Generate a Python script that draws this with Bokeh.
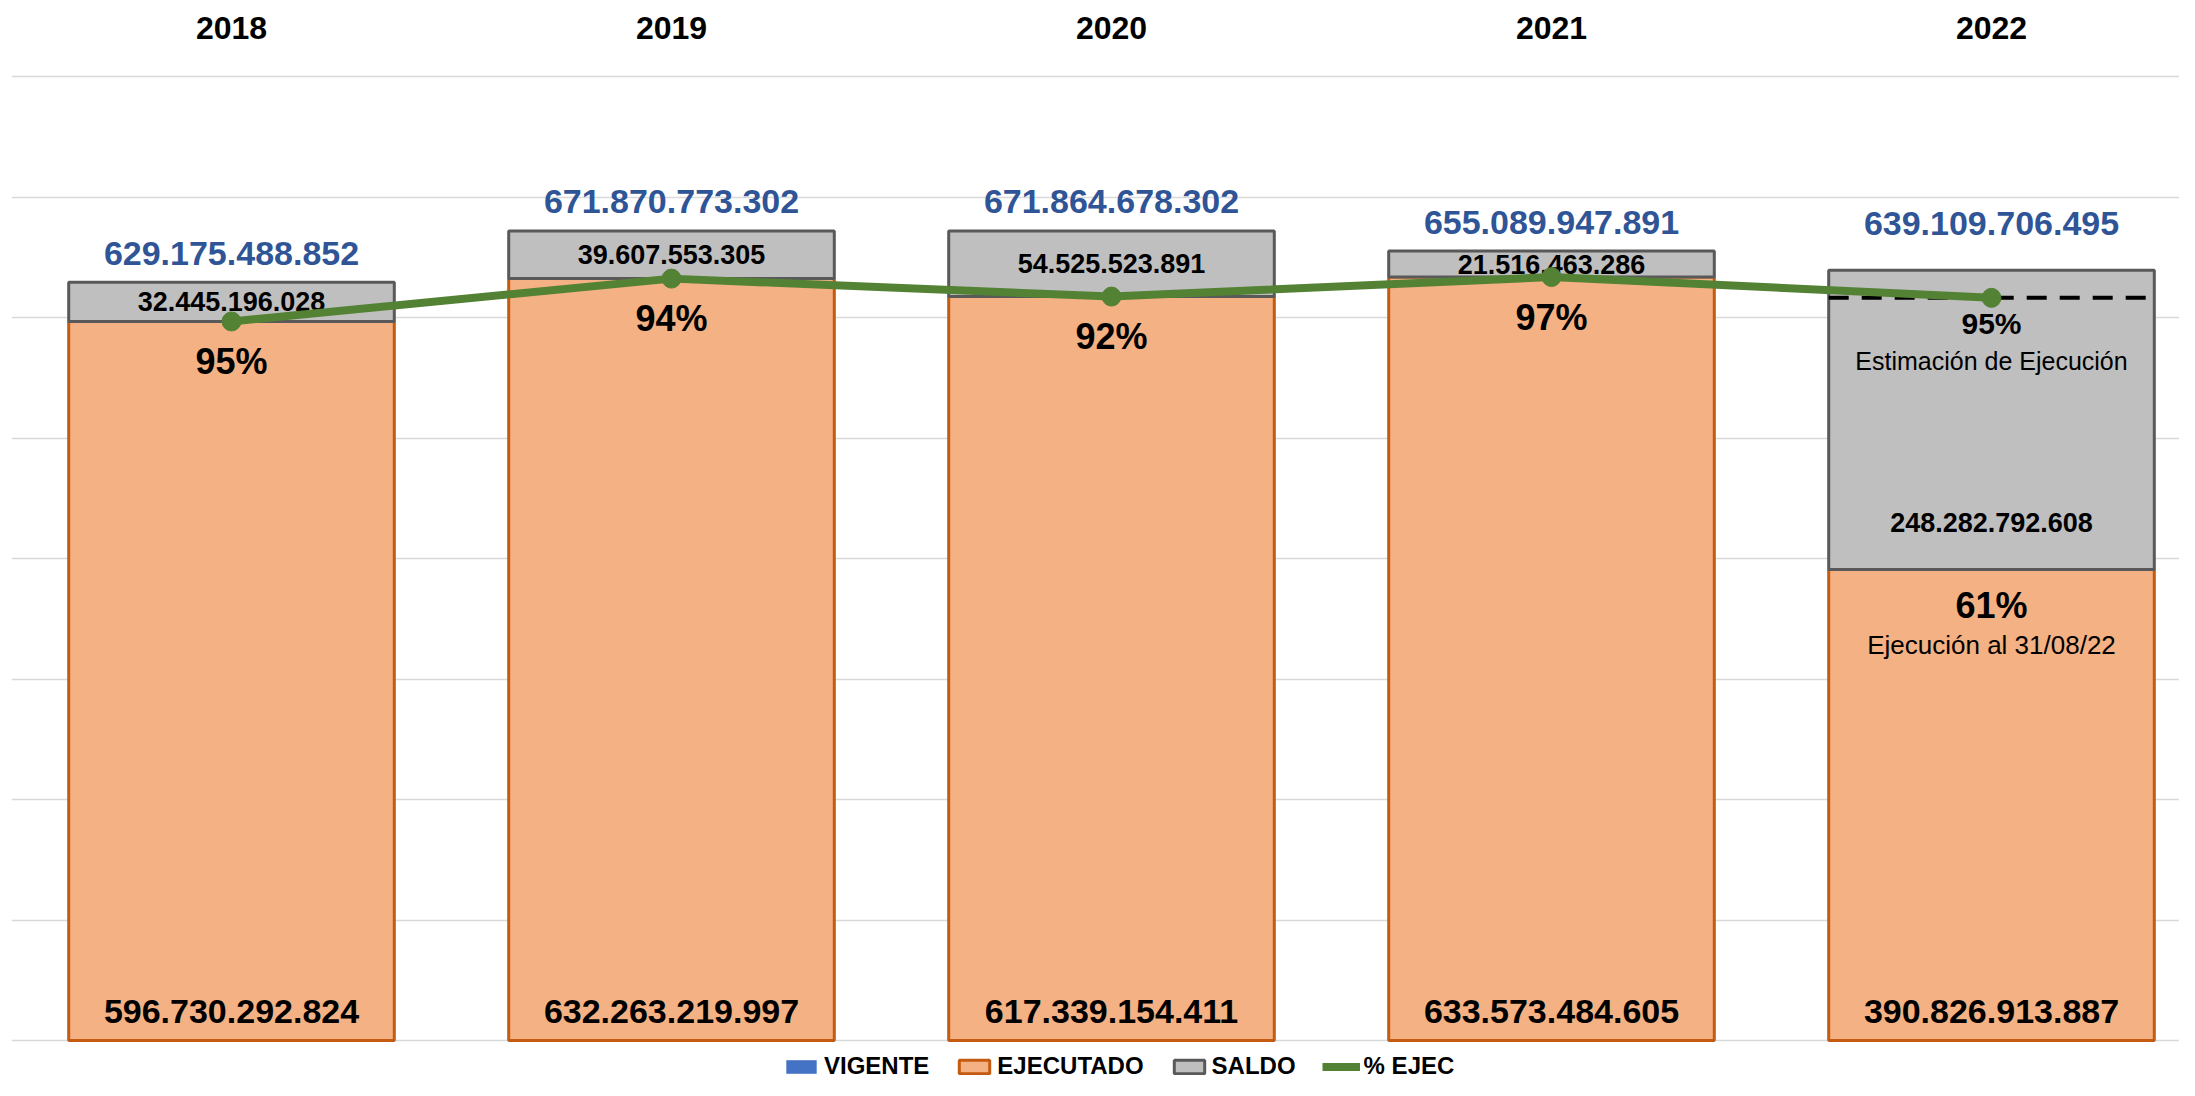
from bokeh.plotting import figure
from bokeh.models import Range1d, FixedTicker, Legend, LegendItem, ColumnDataSource
from bokeh.core.properties import value
from bokeh.embed import file_html
from bokeh.resources import INLINE

# ---------------- data ----------------
years = ["2018", "2019", "2020", "2021", "2022"]
vigente = [629175488852, 671870773302, 671864678302, 655089947891, 639109706495]
ejecutado = [596730292824, 632263219997, 617339154411, 633573484605, 390826913887]
saldo = [32445196028, 39607553305, 54525523891, 21516463286, 248282792608]
# % EJEC line (drawn at executed amount; 2022 = estimated execution)
pct_line = [596730292824, 632263219997, 617339154411, 633573484605, 616300000000]
pct_labels = ["95%", "94%", "92%", "97%", "61%"]
est_pct_2022 = "95%"
est_text_2022 = "Estimación de Ejecución"
ejec_text_2022 = "Ejecución al 31/08/22"
y_ticks = [0, 100e9, 200e9, 300e9, 400e9, 500e9, 600e9, 700e9, 800e9]

# ---------------- styling ----------------
FONT = "Liberation Sans"
BLUE = "#4472C4"
ORANGE_FILL = "#F4B183"
ORANGE_LINE = "#C55A11"
GRAY_FILL = "#BFBFBF"
GRAY_LINE = "#595959"
GREEN = "#548235"
LABEL_BLUE = "#2F5597"
BAR_W = 0.74
TOP_BORDER = 74
PLOT_H = 1080 - TOP_BORDER   # frame height in px
LEGEND_BAND = 40             # px reserved under the zero line for the legend
TOP_PAD = 2                  # px above the top gridline

def fmt(v):
    return f"{int(v):,}".replace(",", ".")

xs = [i + 0.5 for i in range(len(years))]
n = len(years)
max_tick = y_ticks[-1]
unit = max_tick / (PLOT_H - LEGEND_BAND - TOP_PAD)   # data units per px
y_top = max_tick + TOP_PAD * unit
y_bottom = -LEGEND_BAND * unit

p = figure(width=2179, height=1080, output_backend="svg", toolbar_location=None,
           x_range=Range1d(0, 2168 / 440), y_range=Range1d(y_bottom, y_top),
           x_axis_location="above", min_border_left=11, min_border_right=0,
           min_border_top=TOP_BORDER, min_border_bottom=0)
p.outline_line_color = None
p.background_fill_color = "white"

# axes
p.yaxis.visible = False
p.xaxis.ticker = FixedTicker(ticks=xs)
p.xaxis.major_label_overrides = {x: y for x, y in zip(xs, years)}
p.xaxis.axis_line_color = None
p.xaxis.major_tick_line_color = None
p.xaxis.minor_tick_line_color = None
p.xaxis.major_label_text_font = FONT
p.xaxis.major_label_text_font_style = "bold"
p.xaxis.major_label_text_font_size = "32px"
p.xaxis.major_label_text_color = "black"
p.xaxis.major_label_standoff = 30
p.xgrid.visible = False
p.ygrid.ticker = FixedTicker(ticks=y_ticks)
p.ygrid.grid_line_color = "#D9D9D9"
p.ygrid.grid_line_width = 1.5

src = ColumnDataSource(dict(x=xs, vig=vigente, eje=ejecutado,
                            top=[e + s for e, s in zip(ejecutado, saldo)],
                            line=pct_line))

r_vig = p.vbar(x="x", top="vig", bottom=0, width=BAR_W, source=src,
               fill_color=BLUE, line_color=None)
r_eje = p.vbar(x="x", top="eje", bottom=0, width=BAR_W, source=src,
               fill_color=ORANGE_FILL, line_color=ORANGE_LINE, line_width=3)
r_sal = p.vbar(x="x", top="top", bottom="eje", width=BAR_W, source=src,
               fill_color=GRAY_FILL, line_color=GRAY_LINE, line_width=3)

# dashed estimation line on 2022 bar
p.segment(x0=[xs[-1] - BAR_W / 2], x1=[xs[-1] + BAR_W / 2],
          y0=[pct_line[-1]], y1=[pct_line[-1]],
          line_color="black", line_width=4, line_dash="20 13")

# labels: totals (blue)
tot_off = [-29, -29, -29, -29, -47]
p.text(x=xs, y=vigente, text=[fmt(v) for v in vigente], y_offset=tot_off,
       text_align="center", text_baseline="middle", text_color=LABEL_BLUE,
       text_font=value(FONT), text_font_style="bold", text_font_size="34px")

# labels: executed (bottom)
p.text(x=xs, y=[0] * n, text=[fmt(v) for v in ejecutado], y_offset=[-29] * n,
       text_align="center", text_baseline="middle", text_color="black",
       text_font=value(FONT), text_font_style="bold", text_font_size="34px")

# labels: saldo
sal_y = [e + s / 2 for e, s in zip(ejecutado[:-1], saldo[:-1])] + [ejecutado[-1]]
sal_off = [0, 0, 0, 0, -47]
p.text(x=xs, y=sal_y, text=[fmt(v) for v in saldo], y_offset=sal_off,
       text_align="center", text_baseline="middle", text_color="black",
       text_font=value(FONT), text_font_style="bold", text_font_size="27px")

# line % EJEC
r_line = p.line(x=xs, y=pct_line, line_color=GREEN, line_width=8)
r_pts = p.scatter(x=xs, y=pct_line, size=19, fill_color=GREEN, line_color=GREEN)

# percent labels
p.text(x=xs[:-1], y=pct_line[:-1], text=pct_labels[:-1], y_offset=[40] * (n - 1),
       text_align="center", text_baseline="middle", text_color="black",
       text_font=value(FONT), text_font_style="bold", text_font_size="36px")
p.text(x=[xs[-1]], y=[ejecutado[-1]], text=[pct_labels[-1]], y_offset=[36],
       text_align="center", text_baseline="middle", text_color="black",
       text_font=value(FONT), text_font_style="bold", text_font_size="36px")
p.text(x=[xs[-1]], y=[pct_line[-1]], text=[est_pct_2022], y_offset=[26],
       text_align="center", text_baseline="middle", text_color="black",
       text_font=value(FONT), text_font_style="bold", text_font_size="30px")
p.text(x=[xs[-1]], y=[pct_line[-1]], text=[est_text_2022], y_offset=[63],
       text_align="center", text_baseline="middle", text_color="black",
       text_font=value(FONT), text_font_size="25px")
p.text(x=[xs[-1]], y=[ejecutado[-1]], text=[ejec_text_2022], y_offset=[75],
       text_align="center", text_baseline="middle", text_color="black",
       text_font=value(FONT), text_font_size="26px")

legend = Legend(items=[LegendItem(label="VIGENTE", renderers=[r_vig]),
                       LegendItem(label="EJECUTADO", renderers=[r_eje]),
                       LegendItem(label="SALDO", renderers=[r_sal]),
                       LegendItem(label="% EJEC", renderers=[r_line, r_pts])],
                orientation="horizontal", location=(771, 0),
                border_line_color=None, background_fill_alpha=0,
                padding=0, margin=0, spacing=26, label_standoff=4,
                glyph_width=38, glyph_height=17,
                label_text_font=FONT, label_text_font_style="bold",
                label_text_font_size="24px", label_text_color="black")
p.add_layout(legend, "center")

open("out.html", "w").write(file_html(p, INLINE))
